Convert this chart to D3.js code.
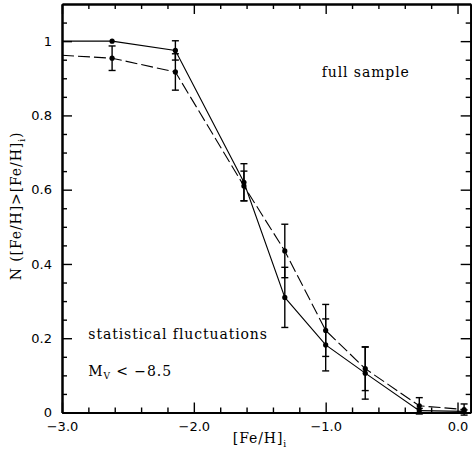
<!DOCTYPE html>
<html>
  <head>
    <meta charset="utf-8" />
    <title>N([Fe/H]>[Fe/H]i)</title>
    <script src="https://d3js.org/d3.v7.min.js"></script>
    <style>
      body { margin: 0; background: #fff; }
      svg { display: block; background: #fff; }
      .axis path { stroke: #000; stroke-width: 2; }
      .axis line { stroke: #000; stroke-width: 1.4; }
      .axis text { font-family: "DejaVu Sans", sans-serif; font-size: 13px; fill: #000; }
      .lbl { font-family: "DejaVu Serif", serif; font-size: 14px; letter-spacing: 0.9px; fill: #000; }
    </style>
  </head>
  <body>
    <svg width="472" height="459"></svg>
    <script>
      // curve starts at the left edge of the plot (no marker there)
      const startFeH = -3.0;
      const startFull = 1.0;
      const startStat = 0.962;

      // binned points
      const feh = [-2.62, -2.14, -1.62, -1.31, -1.00, -0.70, -0.29, 0.05];
      const fullN = [1.0, 0.975, 0.62, 0.31, 0.182, 0.106, 0.005, 0.003];
      const fullErr = [0, 0.026, 0.05, 0.081, 0.07, 0.07, 0.006, 0.004];
      const statN = [0.954, 0.917, 0.61, 0.435, 0.221, 0.118, 0.018, 0.008];
      const statErr = [0.033, 0.049, 0.04, 0.072, 0.07, 0.059, 0.022, 0.015];

      const xMajor = [-3, -2, -1, 0];
      const xMajorLabels = ["\u22123.0", "\u22122.0", "\u22121.0", "0.0"];
      const yMajor = [0, 0.2, 0.4, 0.6, 0.8, 1.0];
      const yMajorLabels = ["0", "0.2", "0.4", "0.6", "0.8", "1"];

      const svg = d3.select("svg");
      const margin = { top: 4, right: 1.3, bottom: 46.5, left: 62 };
      const width = +svg.attr("width") - margin.left - margin.right;
      const height = +svg.attr("height") - margin.top - margin.bottom;
      const g = svg.append("g").attr("transform", `translate(${margin.left},${margin.top})`);

      const x = d3.scaleLinear().domain([-3.0, 0.1]).range([0, width]);
      const y = d3.scaleLinear().domain([0, 1.1]).range([height, 0]);

      const xMinor = d3.range(-2.8, 0.1, 0.2).filter(v => Math.abs(v - Math.round(v)) > 1e-6);
      const yMinor = d3.range(0.05, 1.1, 0.05).filter(v => Math.abs(v * 5 - Math.round(v * 5)) > 1e-6);

      // minor ticks
      g.append("g").attr("class", "axis").attr("transform", `translate(0,${height})`)
        .call(d3.axisBottom(x).tickValues(xMinor).tickSize(-5).tickSizeOuter(0).tickFormat(""));
      g.append("g").attr("class", "axis")
        .call(d3.axisTop(x).tickValues(xMinor).tickSize(-5).tickSizeOuter(0).tickFormat(""));
      g.append("g").attr("class", "axis")
        .call(d3.axisLeft(y).tickValues(yMinor).tickSize(-5).tickSizeOuter(0).tickFormat(""));
      g.append("g").attr("class", "axis").attr("transform", `translate(${width},0)`)
        .call(d3.axisRight(y).tickValues(yMinor).tickSize(-5).tickSizeOuter(0).tickFormat(""));

      // major ticks
      g.append("g").attr("class", "axis").attr("transform", `translate(0,${height})`)
        .call(d3.axisBottom(x).tickValues(xMajor).tickSize(-10).tickSizeOuter(0).tickPadding(9)
          .tickFormat((d, i) => xMajorLabels[i]));
      g.append("g").attr("class", "axis")
        .call(d3.axisTop(x).tickValues(xMajor).tickSize(-10).tickSizeOuter(0).tickFormat(""));
      g.append("g").attr("class", "axis")
        .call(d3.axisLeft(y).tickValues(yMajor).tickSize(-10).tickSizeOuter(0).tickPadding(10)
          .tickFormat((d, i) => yMajorLabels[i]));
      g.append("g").attr("class", "axis").attr("transform", `translate(${width},0)`)
        .call(d3.axisRight(y).tickValues(yMajor).tickSize(-10).tickSizeOuter(0).tickFormat(""));

      const line = d3.line().x(d => x(d[0])).y(d => y(d[1]));

      function drawSeries(startVal, vals, errs, dash) {
        const pts = [[startFeH, startVal]].concat(feh.map((f, i) => [f, vals[i]]));
        g.append("path")
          .attr("d", line(pts))
          .attr("fill", "none")
          .attr("stroke", "#000")
          .attr("stroke-width", 1.1)
          .attr("stroke-dasharray", dash);

        const eb = g.append("g").attr("stroke", "#000").attr("stroke-width", 1.4);
        feh.forEach((f, i) => {
          if (!errs[i]) return;
          const cx = x(f), y1 = y(vals[i] + errs[i]), y0 = y(vals[i] - errs[i]);
          eb.append("line").attr("x1", cx).attr("x2", cx).attr("y1", y1).attr("y2", y0);
          eb.append("line").attr("x1", cx - 3.5).attr("x2", cx + 3.5).attr("y1", y1).attr("y2", y1);
          eb.append("line").attr("x1", cx - 3.5).attr("x2", cx + 3.5).attr("y1", y0).attr("y2", y0);
        });

        g.append("g").selectAll("circle")
          .data(feh)
          .join("circle")
          .attr("cx", d => x(d))
          .attr("cy", (d, i) => y(vals[i]))
          .attr("r", 2.6)
          .attr("fill", "#000");
      }

      drawSeries(startFull, fullN, fullErr, null);
      drawSeries(startStat, statN, statErr, "12,4");

      // labels
      g.append("text").attr("class", "lbl").attr("x", x(-1.03)).attr("y", y(0.9035)).text("full sample");
      g.append("text").attr("class", "lbl").attr("x", x(-2.80)).attr("y", y(0.198)).text("statistical fluctuations");
      const mv = g.append("text").attr("class", "lbl").attr("x", x(-2.80)).attr("y", y(0.098));
      mv.append("tspan").text("M");
      mv.append("tspan").attr("font-size", "9px").attr("dy", 3).text("V");
      mv.append("tspan").attr("dy", -3).text(" <  \u22128.5");

      const xl = svg.append("text").attr("class", "lbl")
        .attr("x", 260).attr("y", 443).attr("text-anchor", "middle");
      xl.append("tspan").text("[Fe/H]");
      xl.append("tspan").attr("font-size", "9px").attr("dy", 4).text("i");

      const yl = svg.append("text").attr("class", "lbl")
        .attr("transform", "translate(21,206) rotate(-90)").attr("text-anchor", "middle");
      yl.append("tspan").text("N ([Fe/H]>[Fe/H]");
      yl.append("tspan").attr("font-size", "9px").attr("dy", 4).text("i");
      yl.append("tspan").attr("dy", -4).text(")");
    </script>
  </body>
</html>
